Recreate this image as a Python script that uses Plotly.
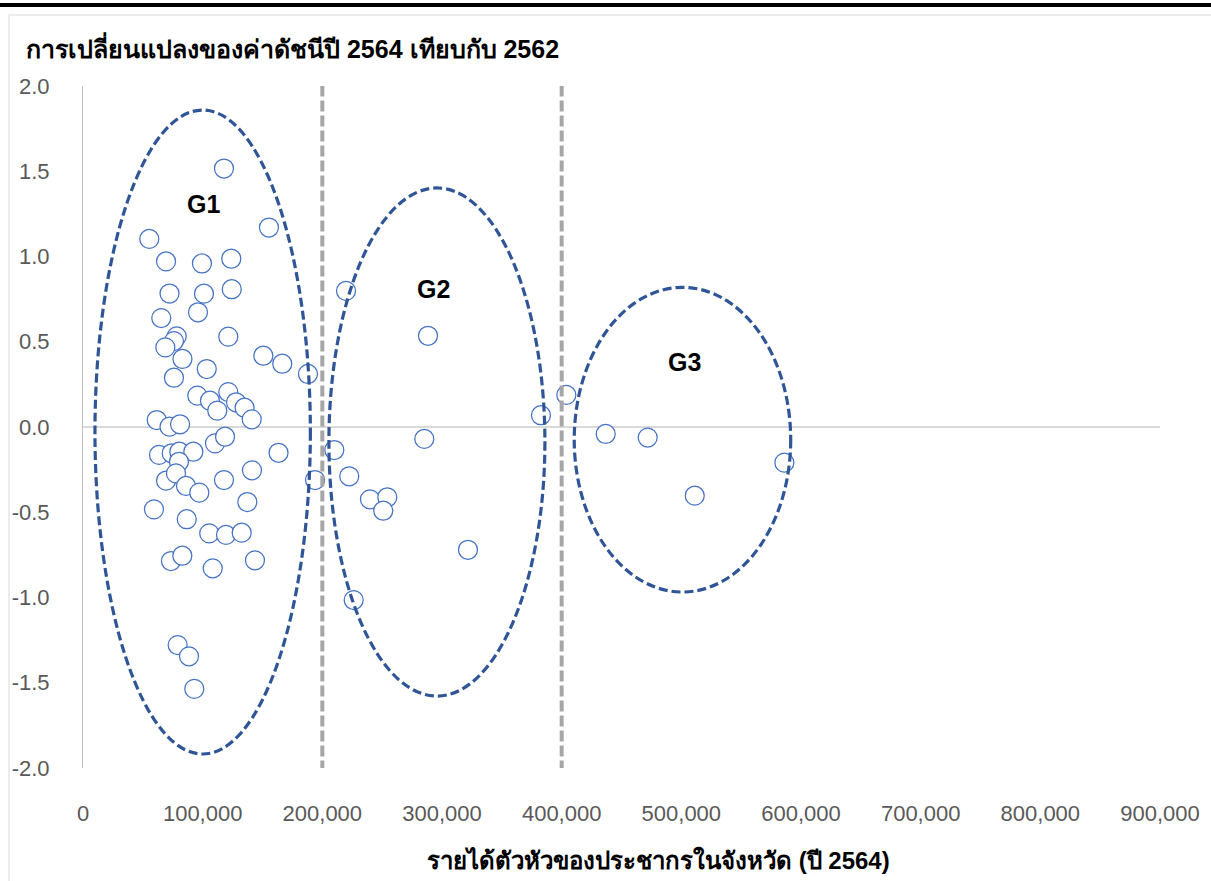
import plotly.graph_objects as go

# ---------------- data ----------------
income = [
    117800, 55400, 155400, 69400, 99400, 123900, 72300, 101100, 124300, 65400,
    96100, 78300, 76000, 68800, 121400, 83100, 103400, 150700, 166500, 188000,
    76000, 95500, 106100, 112200, 121400, 127900, 135000, 141000, 61600, 72300,
    81100, 63500, 74100, 80500, 92200, 110300, 118700, 163400, 80200, 69400,
    77700, 86100, 97200, 117800, 141200, 137300, 59300, 86700, 105500, 119500,
    132600, 73500, 83000, 108400, 143700, 79100, 88600, 93000, 193900,
    219800, 288300, 382700, 285200, 210000, 222500, 239800, 254300, 250900,
    321700, 226200,
    403900, 436800, 471900, 586100, 511200,
]
index_change = [
    1.516, 1.103, 1.170, 0.971, 0.959, 0.987, 0.783, 0.782, 0.808, 0.639,
    0.673, 0.532, 0.504, 0.467, 0.530, 0.399, 0.340, 0.418, 0.371, 0.311,
    0.289, 0.184, 0.154, 0.096, 0.205, 0.145, 0.113, 0.045, 0.041, 0.002,
    0.016, -0.164, -0.154, -0.145, -0.145, -0.096, -0.057, -0.151, -0.204, -0.315,
    -0.272, -0.346, -0.385, -0.311, -0.254, -0.440, -0.483, -0.541, -0.624, -0.633,
    -0.620, -0.786, -0.755, -0.829, -0.782, -1.279, -1.345, -1.536, -0.311,
    0.798, 0.535, 0.069, -0.070, -0.135, -0.289, -0.424, -0.412, -0.491,
    -0.720, -1.015,
    0.188, -0.041, -0.062, -0.209, -0.403,
]

group_names = ["G1", "G2", "G3"]
group_label_x = [100300, 293300, 503000]
group_label_y = [1.31, 0.81, 0.38]
group_x0 = [10000, 205500, 410500]
group_x1 = [190000, 386000, 591400]
group_y0 = [-1.918, -1.578, -0.968]
group_y1 = [1.859, 1.402, 0.819]

divider_x = [200000, 400000]

x_tickvals = [0, 100000, 200000, 300000, 400000, 500000, 600000, 700000, 800000, 900000]
x_ticktext = ["0", "100,000", "200,000", "300,000", "400,000", "500,000",
              "600,000", "700,000", "800,000", "900,000"]
y_tickvals = [-2, -1.5, -1, -0.5, 0, 0.5, 1, 1.5, 2]
y_ticktext = ["-2.0", "-1.5", "-1.0", "-0.5", "0.0", "0.5", "1.0", "1.5", "2.0"]

title_text = "การเปลี่ยนแปลงของค่าดัชนีปี 2564 เทียบกับ 2562"
xtitle_text = "รายได้ตัวหัวของประชากรในจังหวัด (ปี 2564)"

# ---------------- layout geometry ----------------
W, H = 1211, 881
L, R, T, B = 83, 51, 86, 113
PW, PH = W - L - R, H - T - B


def px_x(px):
    return (px - L) / PW


def px_y(py):
    return (H - B - py) / PH


FONT = "Liberation Sans, Arial, Noto Sans, sans-serif"

fig = go.Figure()
fig.add_trace(go.Scatter(
    x=income, y=index_change, mode="markers",
    marker=dict(symbol="circle", size=19, color="white",
                line=dict(color="#4472C4", width=1.25)),
    hoverinfo="x+y", showlegend=False,
))

shapes = []
for gx in divider_x:
    shapes.append(dict(type="line", xref="x", yref="y", x0=gx, x1=gx, y0=-2.02, y1=2.0,
                       line=dict(color="#A6A6A6", width=4, dash="11px,4px"), layer="above"))
for i in range(len(group_names)):
    shapes.append(dict(type="circle", xref="x", yref="y",
                       x0=group_x0[i], x1=group_x1[i], y0=group_y0[i], y1=group_y1[i],
                       line=dict(color="#2F5597", width=3.2, dash="9px,4px"), layer="above"))
# top black rule and light chart frame
shapes.append(dict(type="line", xref="paper", yref="paper",
                   x0=px_x(0), x1=px_x(W), y0=px_y(5), y1=px_y(5),
                   line=dict(color="black", width=4)))
shapes.append(dict(type="line", xref="paper", yref="paper",
                   x0=px_x(9), x1=px_x(W), y0=px_y(15), y1=px_y(15),
                   line=dict(color="#D9D9D9", width=1)))
shapes.append(dict(type="line", xref="paper", yref="paper",
                   x0=px_x(9), x1=px_x(9), y0=px_y(15), y1=px_y(H),
                   line=dict(color="#D9D9D9", width=1)))

annotations = []
for i, g in enumerate(group_names):
    annotations.append(dict(x=group_label_x[i], y=group_label_y[i], xref="x", yref="y",
                            text="<b>%s</b>" % g, showarrow=False,
                            font=dict(family=FONT, size=25, color="black")))
annotations.append(dict(x=px_x(24), y=px_y(47), xref="paper", yref="paper",
                        xanchor="left", yanchor="middle", text="<b>%s</b>" % title_text,
                        showarrow=False, font=dict(family=FONT, size=25, color="black")))
annotations.append(dict(x=px_x(658), y=px_y(860), xref="paper", yref="paper",
                        xanchor="center", yanchor="middle", text="<b>%s</b>" % xtitle_text,
                        showarrow=False, font=dict(family=FONT, size=24, color="black")))

fig.update_layout(
    width=W, height=H,
    margin=dict(l=L, r=R, t=T, b=B, autoexpand=False),
    paper_bgcolor="white", plot_bgcolor="white",
    font=dict(family=FONT, size=22, color="#595959"),
    shapes=shapes, annotations=annotations,
    showlegend=False,
)
fig.update_xaxes(
    range=[0, 900000], tickvals=x_tickvals, ticktext=x_ticktext,
    showgrid=False, zeroline=False, showline=False, ticks="",
    ticklabelstandoff=30, tickfont=dict(family=FONT, size=22, color="#595959"),
)
fig.update_yaxes(
    range=[-2, 2], tickvals=y_tickvals, ticktext=y_ticktext,
    showgrid=False, zeroline=True, zerolinecolor="#D9D9D9", zerolinewidth=2,
    showline=True, linecolor="#BFBFBF", linewidth=1, ticks="",
    ticklabelstandoff=28, tickfont=dict(family=FONT, size=22, color="#595959"),
)

fig.write_html(
    "out.html",
    config={"displayModeBar": False},
    post_script="document.body.style.margin='0';document.body.style.overflow='hidden';",
)
